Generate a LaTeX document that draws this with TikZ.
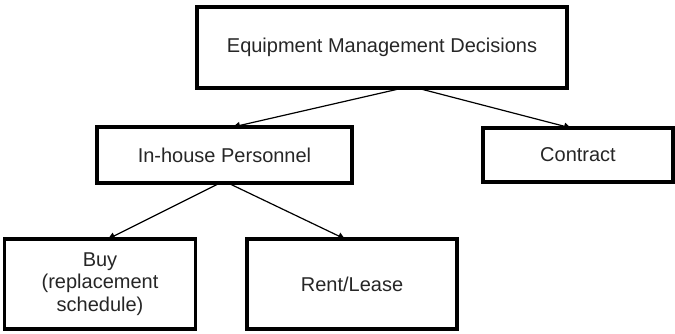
\documentclass[tikz,border=0pt]{standalone}
\usepackage{fontspec}
\setmainfont{Liberation Sans}
\usepackage{tikz}
\usetikzlibrary{arrows.meta, calc}
\usepackage{xcolor}
\definecolor{textgray}{HTML}{262626}

\begin{document}
\begin{tikzpicture}[x=1pt, y=-1pt,
		every node/.style={font=\fontsize{20}{22.5}\selectfont, text=textgray},
		box/.style={draw, line width=3.2pt, rectangle, inner sep=0pt, outer sep=0pt, align=center},
		link/.style={line width=1.2pt, -{Triangle[length=7pt, width=7pt]}}]
			\useasboundingbox (0,0) rectangle (675,333);
			
			\node[box, minimum width=370pt, minimum height=81pt] (top) at (382,47.5) {Equipment Management Decisions};
			\node[box, minimum width=255pt, minimum height=56pt] (inhouse) at (224.5,155) {In-house Personnel};
			\node[box, minimum width=190pt, minimum height=54pt] (contract) at (578,155) {Contract};
			\node[box, minimum width=191pt, minimum height=90pt] (buy) at (100,284) {Buy\\(replacement\\schedule)};
			\node[box, minimum width=210pt, minimum height=90pt] (rent) at (352,284) {Rent/Lease};
			
			\draw[link] ($(top.south)+(21,0)$) -- ($(inhouse.north)+(8.5,0)$);
			\draw[link] ($(top.south)+(35,0)$) -- ($(contract.north)+(-7,0)$);
			\draw[link] ($(inhouse.south)+(-4.5,0)$) -- ($(buy.north)+(8,0)$);
			\draw[link] ($(inhouse.south)+(3.5,0)$) -- ($(rent.north)+(-7,0)$);
		\end{tikzpicture}
\end{document}
